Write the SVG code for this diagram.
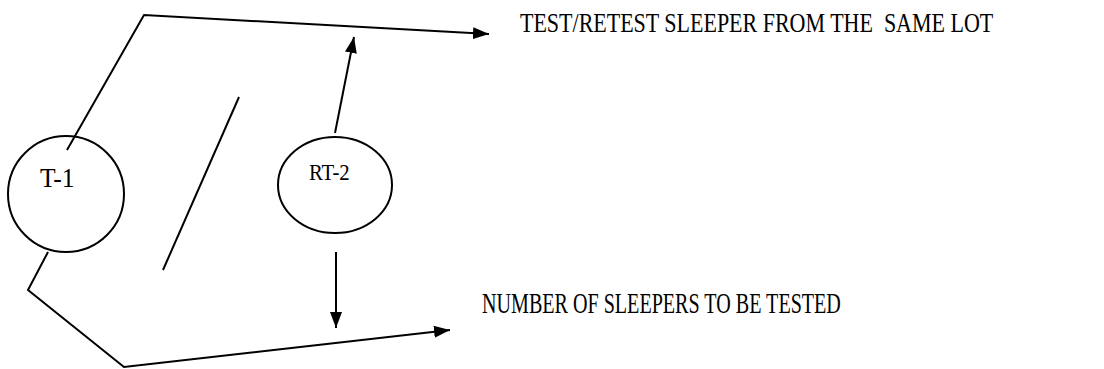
<svg xmlns="http://www.w3.org/2000/svg" width="1104" height="369" viewBox="0 0 1104 369">
<style>
.ln{fill:none;stroke:#000;stroke-width:2}
.nd{fill:none;stroke:#000;stroke-width:2}
.tx{font-family:"Liberation Serif","Times New Roman",serif;fill:#000;white-space:pre}
</style>
<defs>
<marker id="ah" viewBox="0 0 16 12" refX="16" refY="6" markerWidth="16" markerHeight="12" markerUnits="userSpaceOnUse" orient="auto">
<path d="M0,0 L16,6 L0,12 Z" fill="#000"/>
</marker>
</defs>
<rect width="1104" height="369" fill="#fff"/>
<g id="connectors">
<polyline class="ln" points="67,150 144,15 489,34" marker-end="url(#ah)"/>
<line class="ln" x1="335" y1="133" x2="354" y2="37" marker-end="url(#ah)"/>
<line class="ln" x1="239" y1="97" x2="163" y2="270"/>
<polyline class="ln" points="48,252 28,290 124,367 450,330" marker-end="url(#ah)"/>
<line class="ln" x1="336" y1="252" x2="336" y2="328" marker-end="url(#ah)"/>
</g>
<g id="node-t1">
<ellipse class="nd" cx="66" cy="194" rx="58" ry="58"/>
<text class="tx" transform="translate(40,187) scale(1,1.08)" font-size="25.6">T-1</text>
</g>
<g id="node-rt2">
<ellipse class="nd" cx="335" cy="185" rx="57" ry="48"/>
<text class="tx" transform="translate(309,180) scale(1,1.09)" font-size="20.8">RT-2</text>
</g>
<g id="label-top">
<text class="tx" xml:space="preserve" transform="translate(520,32) scale(1,1.25)" font-size="22">TEST/RETEST SLEEPER FROM THE  SAME LOT</text>
</g>
<g id="label-bottom">
<text class="tx" transform="translate(482,313) scale(1,1.5)" font-size="20.1">NUMBER OF SLEEPERS TO BE TESTED</text>
</g>
</svg>
